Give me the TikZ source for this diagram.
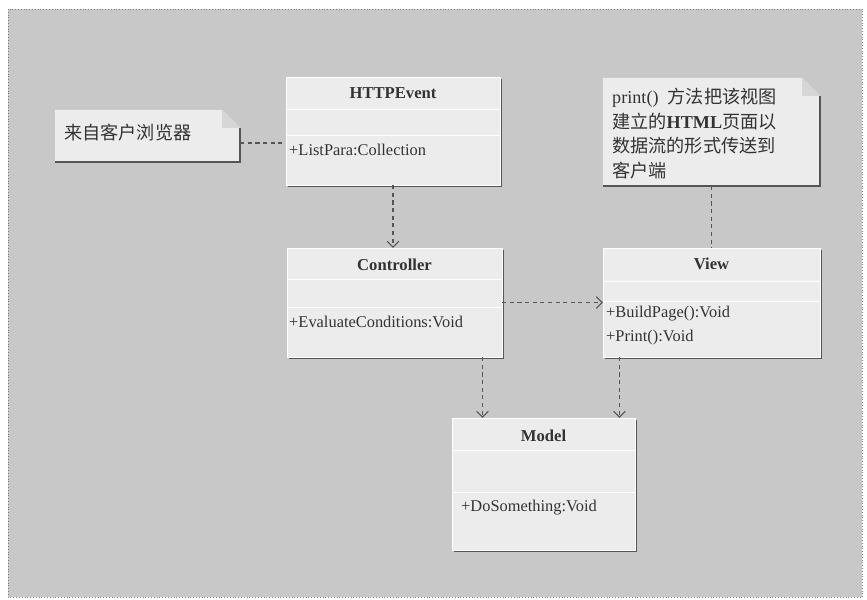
\documentclass[tikz,border=0pt]{standalone}
\usepackage{fontspec}
\setmainfont{Liberation Serif}
\newfontfamily\cjk{Noto Sans CJK SC}
\usetikzlibrary{arrows.meta,shadows}

\definecolor{panelgray}{HTML}{C8C8C8}
\definecolor{boxfill}{HTML}{ECECEC}
\definecolor{shade}{HTML}{555555}
\definecolor{ink}{HTML}{333333}
\newcommand{\pxu}{0.3mm}

\tikzset{
  classbox/.style={rectangle, fill=boxfill, draw=white, line width=0.4pt, inner sep=0pt,
    drop shadow={shadow xshift=0.7mm, shadow yshift=-0.7mm, fill=shade, opacity=1}},
  notebox/.style={rectangle, inner sep=0pt},
  classname/.style={font=\fontsize{14.2}{17}\selectfont\bfseries, text=ink},
  member/.style={font=\fontsize{14}{17}\selectfont, text=ink, anchor=west, inner sep=0pt},
  notetext/.style={font=\fontsize{15.5}{21}\selectfont, text=ink, align=left, inner sep=0pt},
  divider/.style={draw=white, line width=0.7pt},
  shadowline/.style={draw=shade, line width=1.8pt},
  dep/.style={draw=shade, line width=0.9pt, dash pattern=on 3.5pt off 3pt},
  deparrow/.style={dep, -{Straight Barb[length=5pt, width=10pt, line width=0.9pt]}},
}

\begin{document}
\begin{tikzpicture}[x=0.3mm, y=-0.3mm]
  \useasboundingbox (0,0) rectangle (867,600);
  \draw[fill=panelgray, draw=gray, dotted] (8,9) rectangle (862,597);

  % notes
  \node[notebox, minimum width=185*\pxu, minimum height=52*\pxu] (client) at (147.5,136) {};
  \node[notebox, minimum width=217*\pxu, minimum height=108*\pxu] (print) at (711.5,132) {};
  \foreach \n in {client, print}
  {  \fill[boxfill] (\n.north west) -- ([shift={(-18,0)}]\n.north east) -- ([shift={(0,18)}]\n.north east)
        -- (\n.south east) -- (\n.south west) -- cycle;
     \fill[boxfill!80!gray] ([shift={(-18,0)}]\n.north east) -- ([shift={(-18,18)}]\n.north east)
        -- ([shift={(0,18)}]\n.north east) -- cycle;
     \draw[shadowline] ([shift={(0,18)}]\n.north east) -- (\n.south east) -- (\n.south west);
  }
  \node[notetext, anchor=west] (clienttext) at (64,133) {\cjk 来自客户浏览器};
  \node[notetext, anchor=north west] (printtext) at (612,88)
    {print()\ \ {\cjk 方法把该视图}\\{\cjk 建立的}\textbf{HTML}{\cjk 页面以}\\{\cjk 数据流的形式传送到}\\{\cjk 客户端}};

  % classes
  \node[classbox, minimum width=214*\pxu, minimum height=108*\pxu] (http)  at (393,131)   {};
  \node[classbox, minimum width=215*\pxu, minimum height=109*\pxu] (ctrl)  at (394.5,302.5) {};
  \node[classbox, minimum width=217*\pxu, minimum height=109*\pxu] (view)  at (711.5,302.5) {};
  \node[classbox, minimum width=183*\pxu, minimum height=132*\pxu] (model) at (543.5,484)   {};

  \foreach \n/\d/\e in {http/33/59, ctrl/32/60, view/34/54, model/33/75}
  {  \draw[divider] ([shift={(0,\d)}]\n.north west) -- ([shift={(0,\d)}]\n.north east);
     \draw[divider] ([shift={(0,\e)}]\n.north west) -- ([shift={(0,\e)}]\n.north east);
  }

  \node[classname] (httpname)  at (393,93)   {HTTPEvent};
  \node[classname] (ctrlname)  at (394.5,265) {Controller};
  \node[classname] (viewname)  at (711.5,264) {View};
  \node[classname] (modelname) at (543.5,436) {Model};

  \node[member] (httpattr)   at (289,150) {+ListPara:Collection};
  \node[member] (ctrlop)     at (289,322) {+EvaluateConditions:Void};
  \node[member] (viewbuild)  at (606,314) {+BuildPage():Void};
  \node[member] (viewprint)  at (606,338) {+Print():Void};
  \node[member] (modelop)    at (461,508) {+DoSomething:Void};

  % connectors
  \draw[dep] ([shift={(0,7)}]client.east) -- ([shift={(0,7)}]client.east -| http.west);
  \draw[dep] (print.south) -- (view.north);
  \draw[deparrow] (http.south) -- (http.south |- ctrl.north);
  \draw[deparrow] (ctrl.east) -- (ctrl.east -| view.west);
  \draw[deparrow] ([shift={(88,0)}]ctrl.south) -- ([shift={(88,0)}]ctrl.south |- model.north);
  \draw[deparrow] ([shift={(-92,0)}]view.south) -- ([shift={(-92,0)}]view.south |- model.north);
\end{tikzpicture}
\end{document}
